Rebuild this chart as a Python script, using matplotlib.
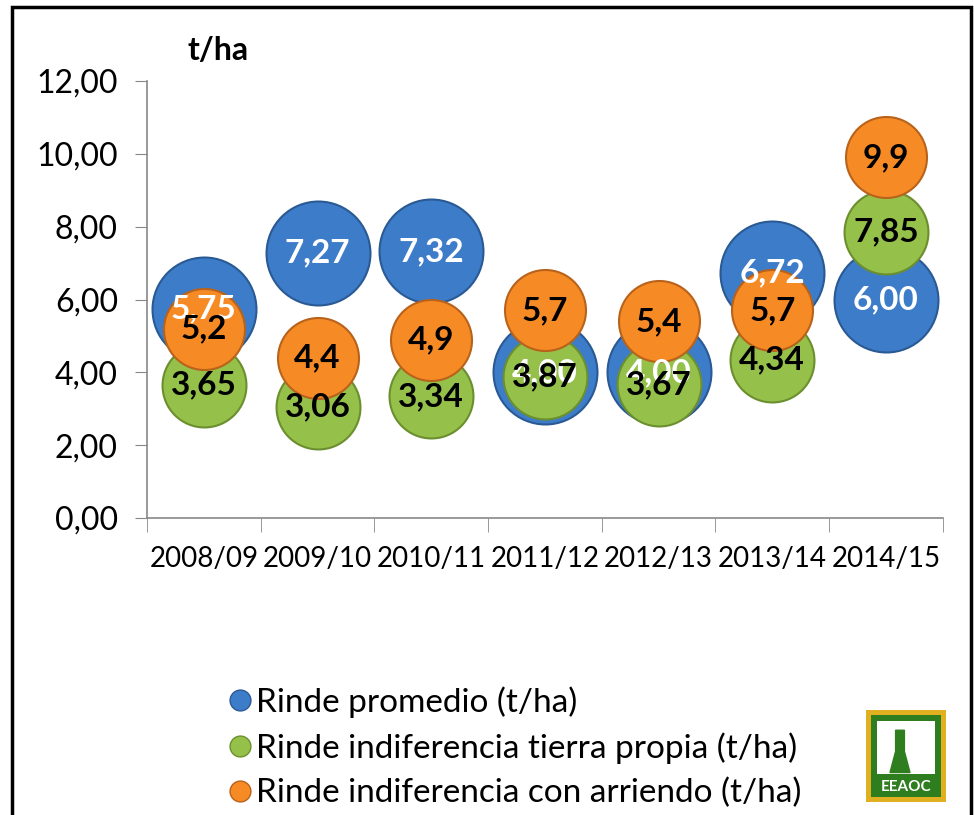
import matplotlib.pyplot as plt
from matplotlib.lines import Line2D
from matplotlib.patches import Rectangle
from matplotlib.ticker import FuncFormatter

plt.rcParams['font.family'] = ['Lato', 'DejaVu Sans']

campanas = ['2008/09', '2009/10', '2010/11', '2011/12', '2012/13', '2013/14', '2014/15']
rinde_promedio = [5.75, 7.27, 7.32, 4.00, 4.00, 6.72, 6.00]
rinde_propia = [3.65, 3.06, 3.34, 3.87, 3.67, 4.34, 7.85]
rinde_arriendo = [5.2, 4.4, 4.9, 5.7, 5.4, 5.7, 9.9]

lbl_promedio = ['5,75', '7,27', '7,32', '4,00', '4,00', '6,72', '6,00']
lbl_propia = ['3,65', '3,06', '3,34', '3,87', '3,67', '4,34', '7,85']
lbl_arriendo = ['5,2', '4,4', '4,9', '5,7', '5,4', '5,7', '9,9']

azul = '#3d7cc9'
verde = '#95c14b'
naranja = '#f68b26'

fig = plt.figure(figsize=(9.74, 8.15), dpi=100)
ax = fig.add_axes([0.151, 0.3644, 0.817, 0.5362])

x = list(range(1, len(campanas) + 1))

ax.scatter(x, rinde_promedio, s=5600, color=azul, edgecolor='#2a5a94', linewidth=1.5, zorder=2, clip_on=False)
ax.scatter(x, rinde_propia, s=3650, color=verde, edgecolor='#6b8f2e', linewidth=1.5, zorder=3, clip_on=False)
ax.scatter(x, rinde_arriendo, s=3400, color=naranja, edgecolor='#b8621a', linewidth=1.5, zorder=4, clip_on=False)

for xi, v, t in zip(x, rinde_promedio, lbl_promedio):
    ax.text(xi, v, t, ha='center', va='center', color='white', fontsize=24, fontweight='bold', zorder=5)
for xi, v, t in zip(x, rinde_propia, lbl_propia):
    ax.text(xi, v, t, ha='center', va='center', color='black', fontsize=24, fontweight='bold', zorder=6)
for xi, v, t in zip(x, rinde_arriendo, lbl_arriendo):
    ax.text(xi, v, t, ha='center', va='center', color='black', fontsize=24, fontweight='bold', zorder=7)

ax.set_xlim(0.5, 7.5)
ax.set_ylim(0, 12)
ax.set_yticks([0, 2, 4, 6, 8, 10, 12])
ax.yaxis.set_major_formatter(FuncFormatter(lambda v, p: f'{v:.2f}'.replace('.', ',')))
ax.set_xticks(x)
ax.set_xticklabels(campanas, fontsize=20)
ax.set_xticks([i + 0.5 for i in range(0, 8)], minor=True)
ax.tick_params(axis='x', which='major', length=0, pad=20)
ax.tick_params(axis='x', which='minor', length=10, color='#888888')
ax.tick_params(axis='y', length=9, color='#888888', labelsize=23, pad=12)

for s in ['top', 'right']:
    ax.spines[s].set_visible(False)
for s in ['left', 'bottom']:
    ax.spines[s].set_color('#888888')
    ax.spines[s].set_linewidth(1.2)

fig.text(0.193, 0.938, 't/ha', fontsize=23, fontweight='bold', ha='left', va='center')

handles = [
    Line2D([], [], marker='o', linestyle='', markersize=15, markerfacecolor=azul, markeredgecolor='#2a5a94'),
    Line2D([], [], marker='o', linestyle='', markersize=15, markerfacecolor=verde, markeredgecolor='#6b8f2e'),
    Line2D([], [], marker='o', linestyle='', markersize=15, markerfacecolor=naranja, markeredgecolor='#b8621a'),
]
nombres = ['Rinde promedio (t/ha)', 'Rinde indiferencia tierra propia (t/ha)', 'Rinde indiferencia con arriendo (t/ha)']
fig.legend(handles, nombres, loc='upper left', bbox_to_anchor=(0.217, 0.174), frameon=False,
           fontsize=24, handletextpad=0.05, labelspacing=0.42, borderaxespad=0, handlelength=0.9)

# logo EEAOC
logo = fig.add_axes([866 / 974, 1 - 802 / 815, 80 / 974, 92 / 815])
logo.set_xlim(0, 1)
logo.set_ylim(0, 1)
logo.axis('off')
logo.add_patch(Rectangle((0, 0), 1, 1, facecolor='#e0b020', edgecolor='none'))
logo.add_patch(Rectangle((0.06, 0.05), 0.88, 0.9, facecolor='#2e7d1e', edgecolor='none'))
logo.add_patch(Rectangle((0.14, 0.3), 0.72, 0.58, facecolor='white', edgecolor='none'))
logo.fill([0.3, 0.55, 0.48, 0.48, 0.37, 0.37], [0.32, 0.32, 0.55, 0.78, 0.78, 0.55], color='#2e7d1e')
logo.text(0.5, 0.16, 'EEAOC', color='white', fontsize=11, fontweight='bold', ha='center', va='center')

# borde exterior
fig.patches.append(Rectangle((12 / 974, -0.01), 959 / 974, 1 - 7 / 815 + 0.01, transform=fig.transFigure,
                             fill=False, edgecolor='black', linewidth=2.5))

fig.savefig('out.png', dpi=100)
